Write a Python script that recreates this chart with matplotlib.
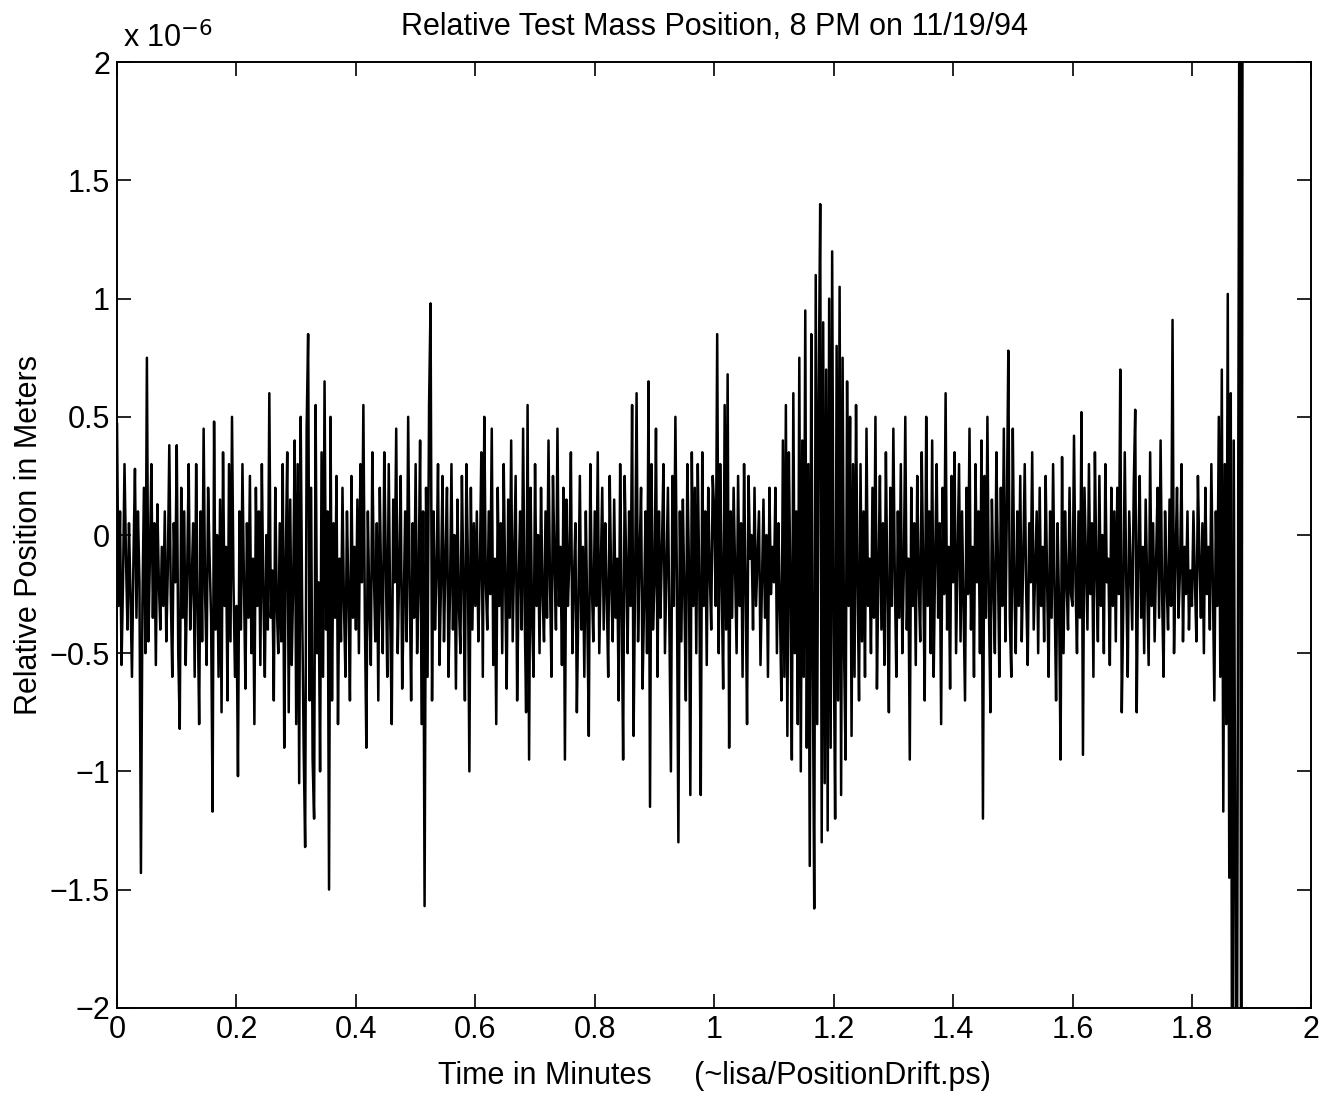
import numpy as np
import matplotlib.pyplot as plt

plt.rcParams['font.family'] = ['Liberation Sans', 'DejaVu Sans']

# relative position (units of 1e-6 m), 40 samples per 0.1 min
seg00 = [0.47, -0.3, 0.1, -0.55, -0.2, 0.3, -0.1, -0.4, 0.05, -0.25,
         -0.6, -0.1, 0.28, -0.35, 0.1, -0.2, -1.43, -0.3, 0.2, -0.5,
         0.75, -0.45, -0.1, 0.3, -0.35, 0.05, -0.55, 0.13, -0.2, -0.4,
         -0.05, -0.3, 0.1, -0.45, -0.15, 0.38, -0.25, -0.6, 0.05, -0.2]
seg01 = [0.38, -0.5, -0.82, 0.2, -0.35, 0.1, -0.55, -0.15, 0.3, -0.4,
         -0.2, 0.05, -0.6, 0.3, -0.3, -0.8, 0.1, -0.45, 0.45, -0.25,
         -0.55, 0.2, -0.1, -0.35, -1.17, 0.48, -0.4, 0.0, -0.6, 0.15,
         -0.75, 0.35, -0.3, -0.05, -0.7, 0.3, -0.45, 0.5, -0.2, -0.6]
seg02 = [-0.3, -1.02, 0.1, -0.4, 0.3, -0.2, -0.65, 0.05, -0.35, 0.25,
         -0.5, -0.1, -0.8, 0.2, -0.3, 0.1, -0.55, 0.3, -0.25, -0.6,
         0.0, -0.4, 0.6, -0.35, -0.15, -0.7, 0.2, -0.3, -0.5, 0.05,
         -0.45, 0.3, -0.9, -0.1, 0.35, -0.75, 0.15, -0.55, -0.2, 0.4]
seg03 = [-0.8, 0.3, -1.05, 0.5, -0.3, -0.9, -1.32, 0.45, 0.85, -0.7,
         0.2, -0.95, -1.2, 0.55, -0.5, -0.2, -1.0, 0.35, -0.6, 0.65,
         -0.4, 0.1, -1.5, 0.5, -0.7, 0.05, -0.35, 0.25, -0.8, -0.1,
         -0.45, 0.2, -0.3, -0.6, 0.1, -0.25, -0.7, 0.25, -0.35, -0.05]
seg04 = [-0.4, 0.15, -0.5, 0.3, -0.2, 0.55, -0.35, -0.9, 0.1, -0.3,
         -0.55, 0.35, -0.15, -0.45, 0.05, -0.7, 0.2, -0.25, -0.5, 0.35,
         -0.1, -0.6, 0.3, -0.35, -0.8, 0.15, -0.2, 0.45, -0.5, -0.15,
         0.25, -0.65, -0.3, 0.1, -0.45, 0.5, -0.2, -0.7, 0.05, -0.35]
seg05 = [0.3, -0.5, -0.2, 0.4, -0.8, 0.1, -1.57, 0.2, -0.6, 0.55,
         0.98, -0.7, 0.1, -0.4, -0.15, 0.3, -0.55, -0.2, 0.25, -0.45,
         -0.1, 0.2, -0.6, -0.25, 0.3, -0.4, 0.0, -0.65, 0.15, -0.3,
         -0.5, 0.25, -0.2, -0.7, 0.3, -0.1, -1.0, 0.2, -0.4, 0.05]
seg06 = [-0.3, 0.1, -0.45, -0.15, 0.35, -0.6, 0.5, -0.2, -0.4, 0.1,
         -0.25, 0.45, -0.55, -0.1, -0.8, 0.2, -0.3, 0.05, -0.5, 0.3,
         -0.2, -0.65, 0.15, -0.35, 0.4, -0.45, -0.1, 0.25, -0.7, -0.2,
         0.1, -0.4, 0.45, -0.3, -0.75, 0.55, -0.95, 0.2, -0.35, -0.6]
seg07 = [0.3, -0.3, 0.0, -0.5, 0.2, -0.25, -0.45, 0.1, -0.35, 0.4,
         -0.2, -0.6, 0.25, -0.1, -0.4, 0.45, -0.3, -0.05, -0.55, 0.2,
         -0.95, 0.15, -0.3, -0.1, 0.35, -0.5, -0.2, 0.05, -0.75, -0.3,
         0.25, -0.4, -0.05, -0.6, 0.1, -0.35, -0.85, 0.3, -0.2, -0.45]
seg08 = [0.1, -0.3, 0.35, -0.5, -0.15, 0.2, -0.4, 0.05, -0.25, -0.6,
         0.25, -0.2, -0.45, 0.15, -0.35, -0.1, -0.7, 0.3, -0.3, -0.95,
         0.25, -0.1, -0.5, 0.1, -0.3, 0.55, -0.85, -0.2, 0.6, -0.45,
         -0.1, 0.2, -0.65, -0.3, 0.1, -0.5, 0.65, -1.15, 0.3, -0.4]
seg09 = [-0.2, 0.45, -0.6, 0.1, -0.35, -0.05, 0.3, -0.5, -0.15, 0.2,
         -0.4, -1.0, 0.25, -0.3, 0.5, -0.2, -1.3, 0.1, -0.45, 0.15,
         -0.25, -0.7, 0.3, -0.1, -1.1, 0.35, -0.3, 0.2, -0.5, 0.3,
         -0.2, -1.1, 0.35, -0.3, 0.1, -0.55, 0.2, -0.15, -0.4, 0.25]
seg10 = [0.1, -0.3, 0.85, -0.5, 0.3, -0.2, -0.65, 0.55, -0.4, 0.68,
         -0.9, 0.1, -0.35, 0.2, -0.15, -0.5, 0.25, -0.3, 0.05, -0.6,
         0.3, -0.2, -0.8, 0.25, -0.1, 0.0, -0.4, 0.2, -0.3, -0.1,
         0.1, -0.55, -0.2, 0.15, -0.35, 0.0, -0.6, 0.2, -0.25, -0.05]
seg11 = [-0.2, 0.2, -0.5, 0.05, -0.3, -0.7, 0.4, -0.6, 0.55, -0.85,
         0.35, -0.2, -0.95, 0.6, -0.5, 0.1, -0.8, 0.75, -1.0, 0.4,
         -0.6, 0.95, -0.9, 0.3, -1.4, 0.85, -0.5, -1.58, 1.1, -0.8,
         0.6, 1.4, -1.3, 0.9, -1.05, 0.7, -1.25, 1.0, -0.9, 1.2]
seg12 = [-0.4, -1.2, 0.8, -0.7, 1.05, -1.1, 0.75, -0.5, -0.95, 0.65,
         -0.3, 0.5, -0.85, 0.3, -0.6, 0.55, -0.2, -0.7, 0.3, -0.45,
         0.1, -0.6, 0.45, -0.3, -0.1, -0.5, 0.2, -0.35, 0.5, -0.65,
         -0.15, 0.25, -0.4, 0.05, -0.55, 0.35, -0.25, -0.75, 0.2, -0.3]
seg13 = [0.45, -0.2, -0.6, 0.1, -0.35, 0.3, -0.5, -0.15, 0.5, -0.4,
         -0.1, -0.95, 0.2, -0.3, 0.05, -0.55, 0.25, -0.2, -0.45, 0.35,
         -0.15, -0.7, 0.5, -0.3, 0.1, -0.5, 0.4, -0.6, -0.1, 0.3,
         -0.35, 0.05, -0.8, 0.2, -0.25, 0.6, -0.4, -0.05, -0.65, 0.25]
seg14 = [-0.2, 0.35, -0.5, -0.1, 0.3, -0.45, 0.1, -0.3, -0.7, 0.2,
         -0.25, 0.45, -0.4, -0.05, -0.6, 0.3, -0.2, 0.1, -0.5, 0.4,
         -1.2, 0.25, -0.35, 0.5, -0.3, -0.75, 0.15, -0.2, -0.5, 0.35,
         -0.1, -0.6, 0.2, -0.3, 0.45, -0.45, 0.1, 0.78, -0.35, -0.6]
seg15 = [0.45, -0.2, -0.5, 0.1, -0.3, 0.25, -0.45, -0.1, 0.3, -0.25,
         -0.55, 0.05, -0.2, 0.35, -0.4, -0.15, 0.1, -0.5, 0.2, -0.3,
         -0.05, -0.45, 0.25, -0.2, -0.6, 0.1, -0.35, 0.3, -0.25, -0.7,
         0.05, -0.3, -0.95, 0.33, -0.5, 0.1, -0.2, -0.4, 0.2, -0.25]
seg16 = [-0.3, 0.42, -0.2, -0.5, 0.1, -0.35, 0.52, -0.93, 0.2, -0.1,
         -0.4, 0.3, -0.25, 0.05, -0.6, 0.35, -0.15, -0.45, 0.25, -0.3,
         0.0, -0.5, 0.3, -0.2, -0.1, -0.55, 0.2, -0.3, 0.1, -0.45,
         0.2, -0.25, 0.7, -0.75, -0.3, 0.35, -0.2, -0.6, 0.1, -0.15]
seg17 = [-0.4, 0.2, 0.53, -0.75, -0.1, 0.25, -0.35, -0.05, -0.5, 0.15,
         -0.2, -0.55, 0.35, -0.3, 0.05, -0.45, -0.1, 0.2, -0.35, 0.4,
         -0.25, -0.6, 0.1, -0.2, -0.4, 0.15, -0.3, 0.91, -0.5, -0.1,
         0.2, -0.35, -0.15, 0.3, -0.45, -0.05, -0.25, 0.1, -0.4, -0.15]
seg18 = [-0.3, 0.1, -0.2, -0.45, 0.25, -0.1, -0.35, 0.05, -0.5, 0.2,
         -0.25, -0.05, -0.4, 0.3, -0.2, -0.7, 0.1, -0.3, 0.5, -0.6,
         0.7, -1.17, 0.3, -0.8, 1.02, -1.45, 0.6, -3.0, 0.4, -1.4,
         -3.0, 0.2, 3.0, -3.0, 3.0]

dt = 0.0025  # minutes per sample
pos = np.array(seg00 + seg01 + seg02 + seg03 + seg04 + seg05 + seg06 + seg07 +
               seg08 + seg09 + seg10 + seg11 + seg12 + seg13 + seg14 + seg15 +
               seg16 + seg17 + seg18)
t = np.arange(len(pos)) * dt

xticks = [0, 0.2, 0.4, 0.6, 0.8, 1, 1.2, 1.4, 1.6, 1.8, 2]
xlabels = ['0', '0.2', '0.4', '0.6', '0.8', '1', '1.2', '1.4', '1.6', '1.8', '2']
yticks = [-2, -1.5, -1, -0.5, 0, 0.5, 1, 1.5, 2]
ylabels = ['\u22122', '\u22121.5', '\u22121', '\u22120.5', '0', '0.5', '1', '1.5', '2']

fs = 22
fig = plt.figure(figsize=(13.3, 10.93), dpi=100)
ax = fig.add_axes([0.088, 0.078, 0.898, 0.865])
ax.plot(t, pos, color='black', linewidth=1.8)

ax.set_xlim(0, 2)
ax.set_ylim(-2, 2)
ax.set_xticks(xticks)
ax.set_xticklabels(xlabels)
ax.set_yticks(yticks)
ax.set_yticklabels(ylabels)
ax.tick_params(direction='in', length=10, width=1.2, top=True, right=True,
               labelsize=fs, pad=5)
for s in ax.spines.values():
    s.set_linewidth(1.4)

ax.set_title('Relative Test Mass Position, 8 PM on 11/19/94', fontsize=fs, pad=20)
ax.set_xlabel('Time in Minutes     (~lisa/PositionDrift.ps)', fontsize=fs, labelpad=12)
ax.set_ylabel('Relative Position in Meters', fontsize=fs, labelpad=4)
ax.text(0.005, 1.008, 'x 10$^{-6}$', transform=ax.transAxes, fontsize=fs,
        ha='left', va='bottom')

fig.savefig('out.png', dpi=100)
